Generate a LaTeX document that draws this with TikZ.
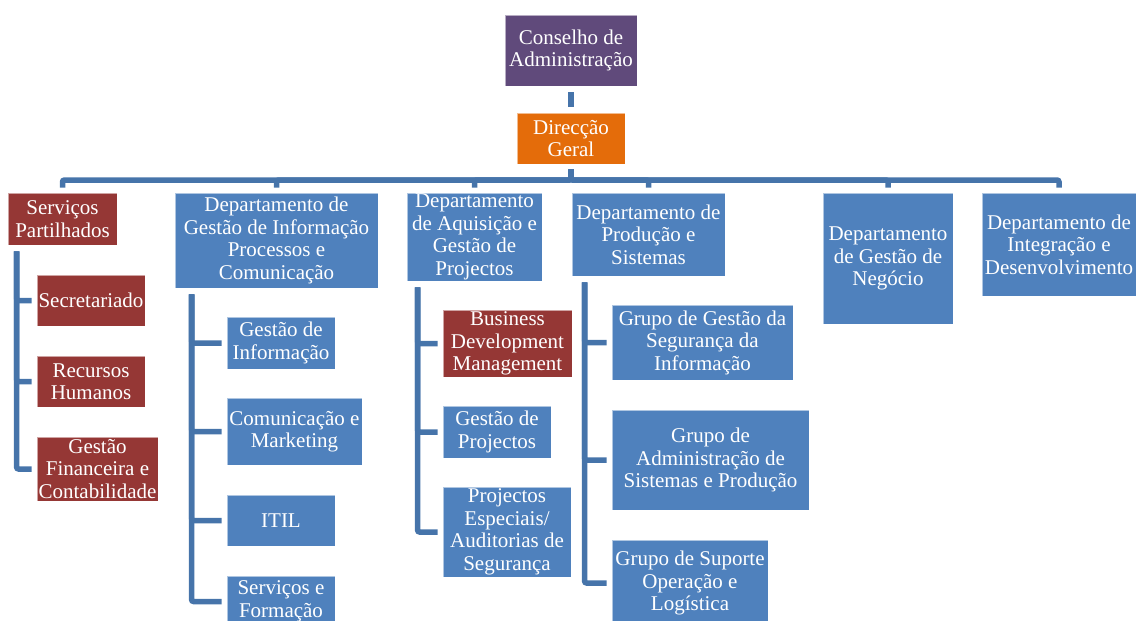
\documentclass[tikz,border=0pt]{standalone}
\usepackage{fontspec}
\setmainfont{Liberation Serif}
\definecolor{cblue}{RGB}{79,129,189}
\definecolor{cred}{RGB}{149,55,53}
\definecolor{cpurple}{RGB}{96,74,123}
\definecolor{corange}{RGB}{228,108,10}
\definecolor{cline}{RGB}{70,116,170}
\newcommand\bx[7]{\node[orgbox, fill=#6, minimum width={(#4-#2)*1pt}, minimum height={(#5-#3)*1pt}] (#1) at ({(#2+#4)/2},{(#3+#5)/2}) {#7};}
\begin{document}
\begin{tikzpicture}[x=1pt,y=-1pt,
  orgbox/.style={draw=white, draw opacity=0.55, line width=0.8pt, text=white, align=center, inner sep=0pt, font=\fontsize{21}{22.5}\selectfont},
  conn/.style={draw=cline, line width=5.5pt, rounded corners=2pt}]
\useasboundingbox (0,0) rectangle (1136,621);
% top
\bx{ca}{505}{15}{637}{86}{cpurple}{Conselho de\\Administração}
\bx{dg}{517}{113}{625}{164}{corange}{Direcção\\Geral}
% departments
\bx{sp}{8}{193}{117}{245}{cred}{Serviços\\Partilhados}
\bx{dgi}{175}{193}{378}{288}{cblue}{Departamento de\\Gestão de Informação\\Processos e\\Comunicação}
\bx{dag}{407}{193}{542}{281}{cblue}{Departamento\\de Aquisição e\\Gestão de\\Projectos}
\bx{dps}{572}{193}{725}{276}{cblue}{Departamento de\\Produção e\\Sistemas}
\bx{dgn}{823}{193}{953}{324}{cblue}{Departamento\\de Gestão de\\Negócio}
\bx{did}{982}{193}{1136}{296}{cblue}{Departamento de\\Integração e\\Desenvolvimento}
% Serviços children
\bx{sec}{37}{275}{145}{326}{cred}{Secretariado}
\bx{rh}{37}{356}{145}{407}{cred}{Recursos\\Humanos}
\bx{gfc}{37}{437}{158}{501}{cred}{Gestão\\Financeira e\\Contabilidade}
% DGI children
\bx{gi}{227}{317}{335}{369}{cblue}{Gestão de\\Informação}
\bx{cm}{227}{398}{362}{465}{cblue}{Comunicação e\\Marketing}
\bx{itil}{227}{495}{335}{546}{cblue}{ITIL}
\bx{sf}{227}{576}{335}{627}{cblue}{Serviços e\\Formação}
% DAG children
\bx{bdm}{443}{310}{572}{377}{cred}{Business\\Development\\Management}
\bx{gp}{443}{406}{551}{458}{cblue}{Gestão de\\Projectos}
\bx{pe}{443}{487}{571}{577}{cblue}{Projectos\\Especiais/\\Auditorias de\\Segurança}
% DPS children
\bx{ggs}{612}{305}{793}{380}{cblue}{Grupo de Gestão da\\Segurança da\\Informação}
\bx{gas}{612}{410}{809}{510}{cblue}{Grupo de\\Administração de\\Sistemas e Produção}
\bx{gso}{612}{540}{768}{626}{cblue}{Grupo de Suporte\\Operação e\\Logística}
% connectors
\coordinate (busY) at (0,180);
\draw[conn] ([yshift=-6pt]ca.south) -- ([yshift=6pt]ca.south |- dg.north);
\foreach \c in {sp,dgi,dag,dps,dgn,did}
  \draw[conn] ([yshift=-5pt]ca.south |- dg.south) -- (ca.south |- busY) -| ([yshift=5pt]\c.north);
\foreach \c in {sec,rh,gfc}
  \draw[conn] ([xshift=9pt,yshift=-6pt]sp.south west) |- ([xshift=-5pt]\c.west);
\foreach \c in {gi,cm,itil,sf}
  \draw[conn] ([xshift=17pt,yshift=-6pt]dgi.south west) |- ([xshift=-5pt]\c.west);
\foreach \c in {bdm,gp,pe}
  \draw[conn] ([xshift=11pt,yshift=-6pt]dag.south west) |- ([xshift=-5pt]\c.west);
\foreach \c in {ggs,gas,gso}
  \draw[conn] ([xshift=13pt,yshift=-6pt]dps.south west) |- ([xshift=-5pt]\c.west);
\end{tikzpicture}
\end{document}
